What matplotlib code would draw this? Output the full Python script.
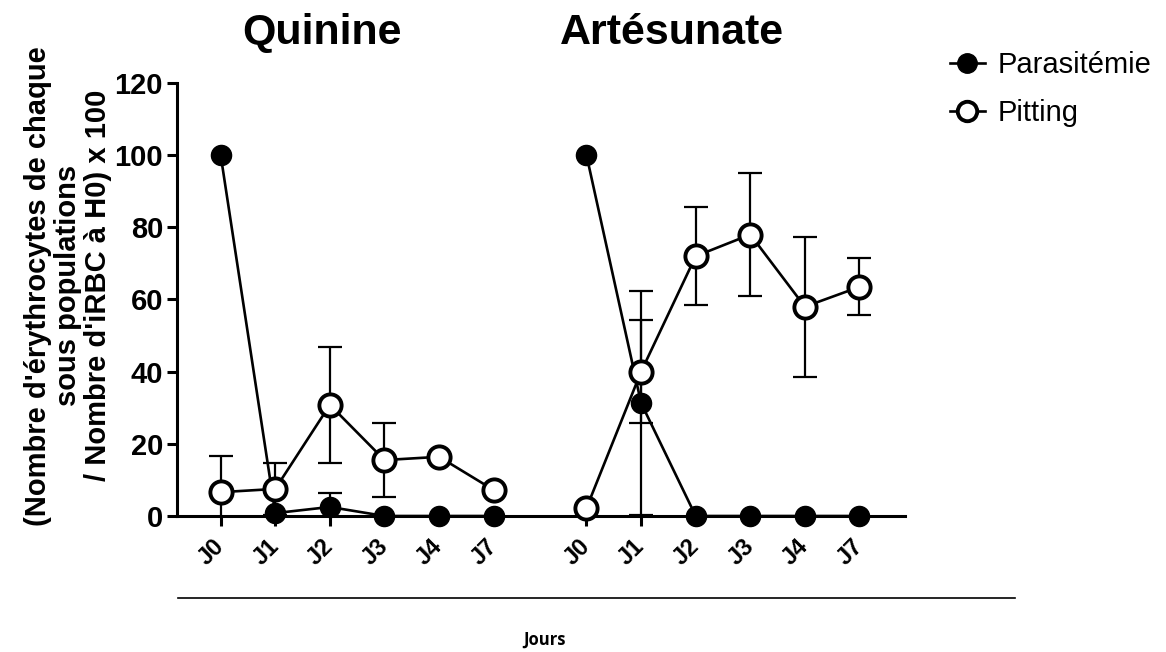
import numpy as np
import matplotlib
matplotlib.use("Agg")
import matplotlib.pyplot as plt
from matplotlib.lines import Line2D

plt.rcParams['font.family'] = ['Liberation Sans', 'DejaVu Sans']

# data
days = ['J0', 'J1', 'J2', 'J3', 'J4', 'J7']
groups = ['Quinine', 'Artésunate']
group_offset = [0.0, 6.7]
title_pos = [1.85, 8.26]

parasit_mean = {'Quinine': [100, 0.8, 2.5, 0, 0, 0],
                'Artésunate': [100, 31.3, 0, 0, 0, 0]}
parasit_err = {'Quinine': [0, 0, 4.0, 0, 0, 0],
               'Artésunate': [0, 31.0, 0, 0, 0, 0]}
pitting_mean = {'Quinine': [6.6, 7.5, 30.8, 15.5, 16.4, 7.2],
                'Artésunate': [2.2, 40.0, 72.0, 78.0, 58.0, 63.5]}
pitting_err = {'Quinine': [10.0, 7.2, 16.0, 10.2, 0, 0],
               'Artésunate': [0, 14.2, 13.6, 17.0, 19.4, 7.9]}

fig = plt.figure(figsize=(11.66, 6.52), dpi=100)
ax = fig.add_axes([0.1518, 0.2086, 0.776 - 0.1518, 0.8727 - 0.2086])


def draw_err(x, m, e):
    x = np.asarray(x)
    m = np.asarray(m, dtype=float)
    e = np.asarray(e, dtype=float)
    k = e > 0
    if k.any():
        ax.errorbar(x[k], m[k], yerr=e[k], fmt='none', ecolor='black',
                    elinewidth=1.6, capsize=8.3, capthick=1.6)


xticks = []
xlabels = []
for g, off in zip(groups, group_offset):
    x = np.arange(len(days)) + off
    xticks.extend(x)
    xlabels.extend(days)
    draw_err(x, parasit_mean[g], parasit_err[g])
    draw_err(x, pitting_mean[g], pitting_err[g])
    ax.plot(x, parasit_mean[g], color='black', lw=1.9, marker='o',
            ms=14.5, mfc='black', mec='black', clip_on=False, zorder=3)
    ax.plot(x, pitting_mean[g], color='black', lw=1.9, marker='o',
            ms=16, mfc='white', mec='black', mew=2.8, clip_on=False, zorder=4)

ax.set_xlim(-0.8, 12.53)
ax.set_ylim(0, 120)
ax.set_yticks(np.arange(0, 121, 20))
ax.set_xticks(xticks)
ax.set_xticklabels(xlabels, rotation=45, ha='right', va='center',
                   rotation_mode='anchor', fontsize=17, fontweight='bold')
for lab in ax.get_yticklabels():
    lab.set_fontsize(21)
    lab.set_fontweight('bold')

for s in ['top', 'right']:
    ax.spines[s].set_visible(False)
for s in ['left', 'bottom']:
    ax.spines[s].set_linewidth(2.2)
ax.tick_params(axis='both', direction='out', length=7, width=2.2, pad=3)
ax.tick_params(axis='x', pad=12)

ax.set_ylabel("(Nombre d'érythrocytes de chaque\nsous populations\n/ Nombre d'iRBC à H0) x 100",
              fontsize=21, fontweight='bold', linespacing=1.1)
ax.yaxis.set_label_coords(-0.089, 0.532)

# group titles
for g, tx in zip(groups, title_pos):
    ax.text(tx, 1.09, g, transform=ax.get_xaxis_transform(),
            ha='center', va='baseline', fontsize=31, fontweight='bold')

# legend
handles = [Line2D([], [], color='black', lw=1.9, marker='o', ms=14, mfc='black'),
           Line2D([], [], color='black', lw=1.9, marker='o', ms=14, mfc='white', mew=2.8)]
fig.legend(handles, ['Parasitémie', 'Pitting'], loc='upper left',
           bbox_to_anchor=(0.792, 0.962), frameon=False, fontsize=21,
           handlelength=1.2, labelspacing=0.7, handletextpad=0.45)

# bottom line and "Jours"
fig.add_artist(Line2D([178 / 1166, 1015 / 1166], [1 - 598 / 652, 1 - 598 / 652],
                      color='black', lw=1.2, transform=fig.transFigure))
fig.text(545 / 1166, 1 - 640 / 652, 'Jours', ha='center', va='center',
         fontsize=12, fontweight='bold', family=['Open Sans', 'DejaVu Sans'])

fig.savefig('out.png', dpi=100)
